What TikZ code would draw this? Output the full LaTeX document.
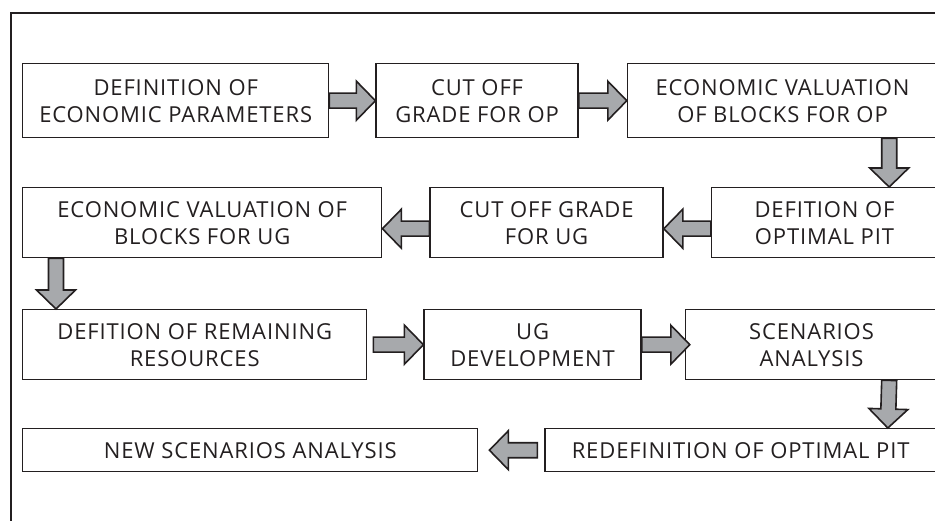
\documentclass[tikz,border=0pt]{standalone}
\usepackage{fontspec}
\setmainfont{Open Sans}[LetterSpace=4]
\usepackage{tikz}
\usetikzlibrary{
    positioning,
    calc
}
\definecolor{ink}{RGB}{35, 31, 32}
\definecolor{arrowgray}{RGB}{167, 169, 172}
\tikzstyle{stage} = [
    rectangle,
    draw=ink,
    line width=1.4pt,
    inner sep=0pt,
    text centered,
    align=center,
    text=ink,
    font=\fontsize{22}{27}\selectfont
]
\tikzstyle{fatarrow} = [
    draw=ink,
    fill=arrowgray,
    line width=1.6pt,
    line join=miter,
    to path={
        let \p1=(\tikztostart), \p2=(\tikztotarget),
            \n1={atan2(\y2-\y1,\x2-\x1)} in
        ($(\p1)+({\n1+90}:7.5pt)$)
        -- ($(\p2)+({\n1+180}:19pt)+({\n1+90}:7.5pt)$)
        -- ($(\p2)+({\n1+180}:19pt)+({\n1+90}:19.5pt)$)
        -- (\p2)
        -- ($(\p2)+({\n1+180}:19pt)+({\n1-90}:19.5pt)$)
        -- ($(\p2)+({\n1+180}:19pt)+({\n1-90}:7.5pt)$)
        -- ($(\p1)+({\n1-90}:7.5pt)$) -- cycle
    }
]
\begin{document}
\begin{tikzpicture}[x=1pt, y=1pt]

\useasboundingbox (0,0) rectangle (935,-521);

% frame
\draw [ink, line width=2.2pt] (11,-521) -- (11,-13) -- (936,-13);

% first row
\node (defpar) [stage, anchor=north west, minimum width=306pt, minimum height=74pt]
    at (22,-63) {DEFINITION OF\\ECONOMIC PARAMETERS};
\node (cutop) [stage, right=46pt of defpar, minimum width=202pt, minimum height=74pt]
    {CUT OFF\\GRADE FOR OP};
\node (valop) [stage, right=48pt of cutop, minimum width=310pt, minimum height=74pt]
    {ECONOMIC VALUATION\\OF BLOCKS FOR OP};

% second row
\node (valug) [stage, anchor=north west, minimum width=359pt, minimum height=70pt]
    at (22,-187) {ECONOMIC VALUATION OF\\BLOCKS FOR UG};
\node (cutug) [stage, right=47pt of valug, minimum width=233pt, minimum height=70pt]
    {CUT OFF GRADE\\FOR UG};
\node (optpit) [stage, right=47pt of cutug, minimum width=226pt, minimum height=70pt]
    {DEFITION OF\\OPTIMAL PIT};

% third row
\node (remain) [stage, anchor=north west, minimum width=344pt, minimum height=70pt]
    at (22,-309) {DEFITION OF REMAINING\\RESOURCES};
\node (ugdev) [stage, right=56pt of remain, minimum width=217pt, minimum height=70pt]
    {UG\\DEVELOPMENT};
\node (scen) [stage, right=43pt of ugdev, minimum width=252pt, minimum height=70pt]
    {SCENARIOS\\ANALYSIS};

% fourth row
\node (newscen) [stage, anchor=north west, minimum width=455pt, minimum height=43pt]
    at (22,-428) {NEW SCENARIOS ANALYSIS};
\node (redef) [stage, right=66pt of newscen, minimum width=391pt, minimum height=43pt]
    {REDEFINITION OF OPTIMAL PIT};

% arrows
\draw [fatarrow] (defpar.east) to (cutop.west);
\draw [fatarrow] (cutop.east) to (valop.west);
\draw [fatarrow] ([xshift=-49pt]valop.south east) to ([xshift=-49pt]optpit.north east);
\draw [fatarrow] ([yshift=-6pt]optpit.west) to ([yshift=-6pt]cutug.east);
\draw [fatarrow] ([yshift=-6pt]cutug.west) to ([yshift=-6pt]valug.east);
\draw [fatarrow] ([xshift=34pt]valug.south west) to ([xshift=34pt]remain.north west);
\draw [fatarrow] ([xshift=6pt]remain.east) to (ugdev.west);
\draw [fatarrow] (ugdev.east) to ([xshift=5pt]scen.west);
\draw [fatarrow] ([xshift=-49pt]scen.south east) to ([xshift=-49pt]redef.north east);
\draw [fatarrow] ([xshift=-7pt]redef.west) to ([xshift=11pt]newscen.east);

\end{tikzpicture}
\end{document}
